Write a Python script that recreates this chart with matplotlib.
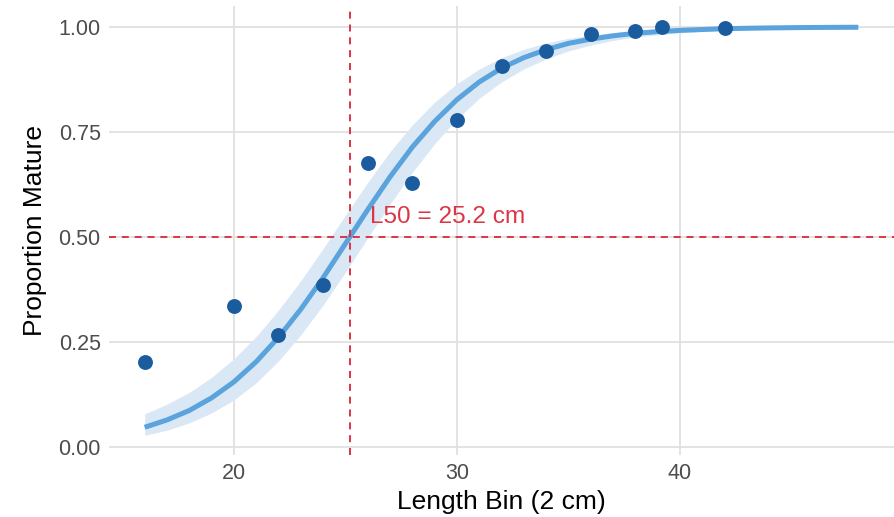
import matplotlib
matplotlib.use("Agg")
import matplotlib.pyplot as plt

# observed proportions
length_bins = [16, 20, 22, 24, 26, 28, 30, 32, 34, 36, 38, 39.2, 42]
prop_mature = [0.202, 0.336, 0.267, 0.386, 0.676, 0.629, 0.779, 0.907, 0.943, 0.983, 0.990, 1.0, 0.998]

# fitted curve and confidence band
fit_x = list(range(16, 49))
fit_y = [0.047, 0.0645, 0.087, 0.117, 0.155, 0.203, 0.261, 0.328, 0.403, 0.484,
         0.565, 0.643, 0.714, 0.775, 0.827, 0.869, 0.902, 0.927, 0.946, 0.961,
         0.971, 0.979, 0.985, 0.989, 0.992, 0.994, 0.996, 0.997, 0.9978, 0.9984,
         0.9989, 0.9992, 0.9994]
fit_lo = [0.028, 0.040, 0.0575, 0.081, 0.112, 0.153, 0.205, 0.267, 0.338, 0.416,
          0.498, 0.578, 0.654, 0.722, 0.781, 0.830, 0.869, 0.900, 0.924, 0.943,
          0.957, 0.968, 0.976, 0.9815, 0.986, 0.9895, 0.992, 0.9939, 0.9954, 0.9965,
          0.9973, 0.9979, 0.9984]
fit_hi = [0.079, 0.102, 0.130, 0.166, 0.210, 0.263, 0.326, 0.396, 0.4725, 0.552,
          0.630, 0.703, 0.767, 0.821, 0.865, 0.900, 0.927, 0.947, 0.962, 0.973,
          0.981, 0.9866, 0.9906, 0.9935, 0.9954, 0.9968, 0.9978, 0.9985, 0.9990, 0.9993,
          0.9995, 0.9997, 0.9998]

L50 = 25.2
label = "L50 = 25.2 cm"
x_ticks = [20, 30, 40]
y_ticks = [0.0, 0.25, 0.5, 0.75, 1.0]
y_ticklabels = ["0.00", "0.25", "0.50", "0.75", "1.00"]

plt.rcParams['font.family'] = ['Liberation Sans', 'DejaVu Sans']

fig = plt.figure(figsize=(8.94, 5.17), dpi=100)
ax = fig.add_axes([109/894, (517-455)/517, (894-109)/894, (455-6)/517])

red = "#dc3545"
ax.fill_between(fit_x, fit_lo, fit_hi, color="#dae8f6", linewidth=0, zorder=2)
ax.plot(fit_x, fit_y, color="#5aa3dc", lw=3.6, solid_capstyle="butt",
        solid_joinstyle="round", zorder=3)
ax.axhline(0.5, color=red, lw=1.4, dashes=(3.6, 3), zorder=4)
ax.axvline(L50, color=red, lw=1.4, dashes=(3.6, 3), zorder=4)
ax.scatter(length_bins, prop_mature, s=115, color="#1a5c9e", zorder=5, linewidths=0)
ax.text(26.1, 0.548, label, color=red, fontsize=17.6, ha="left", va="center", zorder=6)

ax.set_xlim(14.4, 49.6)
ax.set_ylim(-0.019, 1.05)
ax.set_xticks(x_ticks)
ax.set_yticks(y_ticks)
ax.set_yticklabels(y_ticklabels)
ax.grid(True, color="#e0e0e0", lw=1.3, zorder=0)
ax.set_axisbelow(True)
for s in ax.spines.values():
    s.set_visible(False)
ax.tick_params(length=0, labelsize=15.5, labelcolor="#4d4d4d", pad=6)
ax.set_xlabel("Length Bin (2 cm)", fontsize=19, labelpad=4)
ax.set_ylabel("Proportion Mature", fontsize=19, labelpad=8)

fig.savefig("out.png", dpi=100)
